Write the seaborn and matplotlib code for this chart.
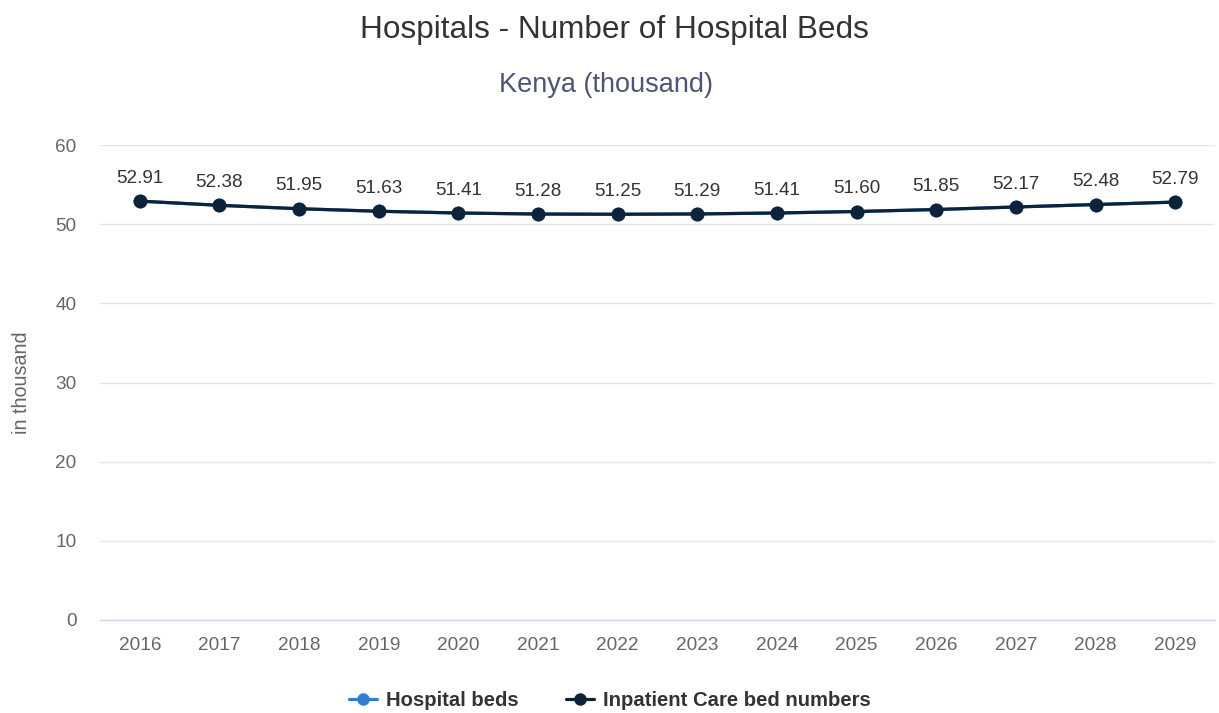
import matplotlib
matplotlib.use("Agg")
import matplotlib.pyplot as plt
import seaborn as sns
import pandas as pd
from matplotlib.lines import Line2D

years = ["2016", "2017", "2018", "2019", "2020", "2021", "2022", "2023", "2024", "2025", "2026", "2027", "2028", "2029"]
hospital_beds = [52.91, 52.38, 51.95, 51.63, 51.41, 51.28, 51.25, 51.29, 51.41, 51.60, 51.85, 52.17, 52.48, 52.79]
inpatient_beds = [52.91, 52.38, 51.95, 51.63, 51.41, 51.28, 51.25, 51.29, 51.41, 51.60, 51.85, 52.17, 52.48, 52.79]
series_names = ["Hospital beds", "Inpatient Care bed numbers"]
series_colors = ["#2f7ed8", "#0d233a"]
yticks = [0, 10, 20, 30, 40, 50, 60]

sns.set_theme(style="white")
plt.rcParams['font.family'] = ['Liberation Sans', 'DejaVu Sans']

df = pd.DataFrame({
    "year": years * 2,
    "value": hospital_beds + inpatient_beds,
    "series": [series_names[0]] * len(years) + [series_names[1]] * len(years),
})
df["x"] = list(range(len(years))) * 2

fig = plt.figure(figsize=(12.19, 7.13), dpi=100)
ax = fig.add_axes([100 / 1219, (713 - 620) / 713, (1215 - 100) / 1219, (620 - 145) / 713])

sns.lineplot(data=df, x="x", y="value", hue="series", palette=dict(zip(series_names, series_colors)),
             marker="o", markersize=10, markeredgewidth=0, linewidth=2.3, ax=ax, legend=False, sort=False)

for i, v in enumerate(inpatient_beds):
    ax.annotate(f"{v:.2f}", (i, v), xytext=(0, 16.5), textcoords="offset points",
                ha="center", va="center", fontsize=13.6, color="#333333")

ax.set_xlim(-0.5, len(years) - 0.5)
ax.set_ylim(0, 60)
ax.set_yticks(yticks)
ax.set_yticklabels([str(t) for t in yticks], fontsize=13.7, color="#666666")
ax.set_xticks(range(len(years)))
ax.set_xticklabels(years, fontsize=13.7, color="#666666")
ax.tick_params(axis="both", length=0)
ax.tick_params(axis="x", pad=12.5)
ax.tick_params(axis="y", pad=17)
ax.grid(axis="y", color="#e6e6e6", linewidth=1)
ax.set_axisbelow(True)
for s in ["top", "right", "left"]:
    ax.spines[s].set_visible(False)
ax.spines["bottom"].set_color("#ccd6eb")
ax.spines["bottom"].set_linewidth(1)
ax.set_xlabel("")
ax.set_ylabel("in thousand", fontsize=14.2, color="#666666")
ax.yaxis.set_label_coords(-69 / 1115, 0.5)

fig.text(614 / 1219, 1 - 30 / 713, "Hospitals - Number of Hospital Beds", ha="center", va="center",
         fontsize=22.7, color="#333333")
fig.text(606 / 1219, 1 - 85 / 713, "Kenya (thousand)", ha="center", va="center",
         fontsize=19.5, color="#4d5573")

handles = [Line2D([0], [0], color=c, marker="o", markersize=9, linewidth=2.3, markeredgewidth=0) for c in series_colors]
fig.legend(handles, series_names, loc="center", bbox_to_anchor=(610 / 1219, 1 - 701 / 713), ncol=2, frameon=False,
           prop={"weight": "bold", "size": 14.6}, labelcolor="#333333", handlelength=1.4, columnspacing=2.3,
           handletextpad=0.45)

fig.savefig("out.png", dpi=100)
